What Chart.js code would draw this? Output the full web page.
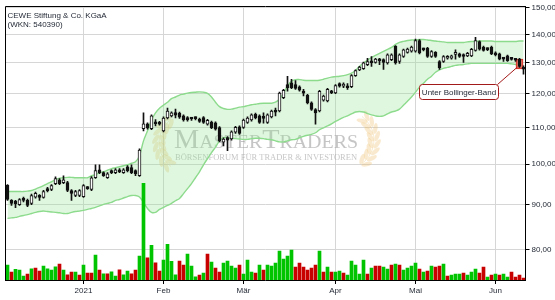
<!DOCTYPE html>
<html>
<head>
<meta charset="utf-8">
<script src="https://cdn.jsdelivr.net/npm/chart.js@4.4.1/dist/chart.umd.min.js"></script>
<style>
  html, body { margin: 0; padding: 0; background: #fff; }
</style>
</head>
<body>
<canvas id="kurs" width="555" height="300"></canvas>
<script>
// Tageskerzen CEWE, Dez 2020 - Jun 2021
const opens = [
  94.6, 91.0, 90.8, 90.0, 91.5, 91.0, 90.3, 91.75, 92.15, 91.7,
  93.8, 93.6, 95.05, 96.0, 95.3, 95.3, 93.35, 92.15, 92.15, 91.9,
  94.1, 93.6, 96.5, 98.5, 97.8, 96.5, 98.3, 97.8, 98.5, 97.8,
  99.3, 99.05, 98.3, 97.0, 109.6, 111.0, 109.6, 111.6, 111.4, 109.0,
  112.7, 113.3, 114.3, 114.1, 113.3, 112.8, 112.5, 112.6, 112.4, 112.8,
  110.9, 111.5, 111.3, 109.9, 105.8, 107.1, 106.7, 108.6, 110.1, 110.0,
  111.4, 112.1, 113.8, 113.3, 113.0, 111.4, 113.0, 114.6, 114.75, 118.8,
  122.9, 123.5, 122.9, 122.2, 120.4, 119.5, 117.2, 115.2, 114.75, 118.0,
  117.8, 120.8, 120.3, 123.2, 122.4, 122.0, 122.2, 125.8, 127.7, 128.1,
  129.4, 130.75, 130.2, 130.8, 131.1, 130.0, 131.1, 135.7, 130.5, 132.2,
  133.6, 134.0, 134.0, 137.8, 134.7, 135.1, 132.2, 133.6, 130.5, 130.5,
  131.6, 131.6, 132.9, 133.1, 132.3, 132.4, 132.4, 134.3, 137.4, 135.5,
  134.8, 135.5, 133.5, 133.1, 131.4, 132.4, 131.4, 131.1, 131.3, 128.4
];
const highs = [
  94.8, 91.2, 91.0, 91.4, 91.8, 91.3, 92.5, 93.0, 92.4, 93.4,
  94.1, 94.8, 96.75, 96.3, 97.0, 95.6, 93.6, 93.4, 93.6, 94.8,
  94.3, 96.8, 99.8, 99.8, 98.0, 97.8, 98.5, 98.8, 98.8, 98.8,
  99.6, 99.8, 98.5, 104.0, 114.2, 111.3, 113.6, 112.2, 111.7, 113.0,
  115.6, 114.5, 115.3, 114.4, 113.6, 113.1, 112.9, 113.0, 112.7, 113.1,
  112.3, 111.8, 111.6, 110.2, 107.0, 107.4, 109.0, 110.3, 110.4, 112.4,
  113.0, 113.9, 114.1, 113.6, 114.2, 113.9, 115.0, 115.6, 120.5, 121.4,
  125.6, 124.6, 124.2, 122.5, 121.4, 119.8, 117.5, 115.5, 121.1, 119.6,
  121.7, 121.1, 122.9, 123.5, 123.5, 123.2, 126.1, 127.7, 128.9, 130.3,
  131.6, 132.2, 131.6, 131.6, 131.4, 133.1, 133.1, 136.0, 133.1, 134.8,
  135.1, 135.8, 138.3, 138.1, 135.1, 135.4, 134.2, 133.9, 130.8, 132.5,
  132.5, 132.7, 134.5, 133.4, 133.1, 133.6, 135.0, 138.9, 137.7, 135.8,
  135.2, 135.8, 133.8, 133.4, 131.7, 132.7, 131.7, 131.4, 131.6, 129.0
];
const lows = [
  91.0, 89.8, 89.3, 89.8, 90.6, 89.5, 90.0, 91.5, 91.0, 91.5,
  93.0, 93.3, 94.8, 94.8, 95.0, 93.1, 91.0, 91.9, 91.9, 91.7,
  93.6, 93.3, 96.3, 97.5, 96.8, 96.3, 97.5, 97.5, 97.8, 97.6,
  98.0, 97.5, 97.0, 96.8, 109.0, 109.5, 109.3, 110.4, 110.6, 108.7,
  112.4, 113.0, 112.7, 112.6, 111.8, 111.8, 112.0, 112.1, 111.4, 111.1,
  110.6, 109.6, 109.2, 105.9, 104.8, 103.5, 106.4, 108.3, 108.0, 109.7,
  111.1, 111.8, 112.4, 111.1, 111.2, 111.1, 112.7, 113.3, 114.5, 118.5,
  120.8, 121.6, 121.4, 120.8, 119.3, 116.9, 114.9, 110.9, 114.5, 117.7,
  117.5, 120.0, 120.0, 122.1, 121.9, 121.4, 121.9, 125.5, 127.4, 127.8,
  129.1, 128.85, 129.9, 129.4, 127.8, 129.6, 130.8, 129.6, 129.8, 131.9,
  133.3, 133.7, 133.7, 133.1, 134.1, 131.9, 131.9, 131.9, 127.8, 130.2,
  131.3, 131.3, 131.3, 131.9, 130.2, 132.1, 132.1, 134.0, 134.4, 134.0,
  134.2, 132.8, 132.4, 131.0, 130.5, 130.5, 130.9, 130.5, 128.5, 126.3
];
const closes = [
  91.2, 90.3, 90.2, 91.2, 91.0, 89.8, 92.15, 92.7, 91.7, 93.1,
  93.3, 94.56, 96.27, 95.05, 96.0, 93.35, 92.65, 93.1, 93.35, 94.56,
  93.8, 96.5, 98.3, 97.8, 97.0, 97.5, 97.8, 98.5, 98.0, 98.5,
  98.3, 97.8, 97.5, 103.7, 111.0, 109.8, 113.3, 111.0, 110.9, 112.7,
  114.75, 114.2, 113.5, 112.9, 112.1, 112.1, 112.4, 112.5, 111.7, 111.4,
  112.0, 109.9, 109.5, 106.2, 106.7, 106.4, 108.7, 110.0, 108.3, 112.1,
  112.7, 113.6, 112.7, 111.4, 112.6, 113.6, 114.75, 114.4, 120.2, 121.1,
  121.9, 121.9, 121.7, 121.1, 120.2, 117.2, 115.2, 114.2, 120.8, 119.3,
  121.4, 120.3, 122.6, 122.4, 122.9, 121.9, 125.8, 127.45, 128.6, 130.0,
  130.5, 130.0, 131.3, 130.7, 130.2, 132.8, 132.8, 130.0, 132.8, 134.5,
  134.8, 135.5, 137.8, 133.4, 134.5, 132.2, 133.9, 132.2, 128.3, 132.2,
  132.2, 132.4, 133.0, 132.2, 132.2, 133.3, 134.7, 137.8, 134.7, 134.3,
  134.6, 133.1, 132.7, 131.3, 131.3, 130.8, 131.2, 130.9, 128.85, 127.9
];
const volumes = [
  7500, 4000, 5350, 5000, 2000, 3000, 5650, 6000, 4500, 7000,
  5650, 5000, 6650, 8000, 5000, 2650, 4000, 4000, 2500, 7500,
  3500, 3500, 12500, 5000, 3150, 3150, 4150, 2000, 5150, 2650,
  4500, 3150, 5000, 12000, 48650, 11150, 17500, 8650, 4500, 10000,
  18000, 9350, 2650, 9500, 7500, 13000, 7000, 1650, 2500, 3500,
  13000, 9000, 6000, 4000, 8500, 9500, 7000, 6000, 7500, 3000,
  10000, 4000, 3500, 7500, 5000, 7500, 7000, 8500, 14500, 10500,
  12000, 15000, 6500, 8500, 6500, 5000, 6000, 7500, 14500, 4000,
  6500, 4000, 4000, 4500, 3500, 2500, 9500, 7500, 3000, 10000,
  3000, 6000, 7000, 7000, 6500, 5500, 7500, 8000, 7500, 5000,
  6000, 7000, 8500, 5500, 4000, 4500, 7000, 6500, 7000, 8000,
  2000, 2500, 3000, 3000, 3500, 2500, 4000, 5500, 3500, 6500,
  1500, 2500, 3000, 2500, 3000, 1500, 4000, 1500, 2500, 1000
];
// g = Umsatz bei steigendem, r = bei fallendem Kurs
const volDir = (
  'grgggrgrrg' + 'gggrgrrgrg' + 'rrgrgrggrg' + 'grrggrgrrg' + 'gggrrgggrg' +
  'rgrrggggrg' + 'ggrgrggggg' + 'ggrrrrrrgr' + 'grggrggggg' + 'rgrrggrgrg' +
  'gggrgrgrrg' + 'rgggrgggrr' + 'grgrggrrrr'
).split('');
const bbUpper = [
  93.1, 93.1, 93.1, 93.1, 93.1, 93.2, 93.35, 93.7, 94.1, 94.55,
  95.05, 95.5, 96.0, 96.4, 96.5, 96.6, 96.6, 96.5, 96.5, 96.5,
  96.5, 97.0, 97.25, 97.8, 98.0, 98.4, 98.8, 99.05, 99.3, 99.55,
  99.8, 100.2, 100.6, 102.2, 106.2, 109.0, 112.1, 114.2, 115.6, 116.5,
  117.4, 118.5, 119.0, 119.6, 119.9, 120.2, 120.4, 120.5, 120.6, 120.5,
  120.1, 119.0, 117.4, 116.05, 115.5, 115.25, 115.3, 115.6, 115.9, 116.05,
  116.35, 116.65, 116.8, 117.0, 117.1, 117.1, 117.1, 117.4, 118.4, 120.2,
  122.4, 124.0, 124.5, 124.5, 124.3, 124.2, 124.2, 124.2, 124.3, 124.6,
  125.0, 125.3, 125.45, 125.6, 125.8, 126.1, 126.6, 127.5, 128.85, 130.0,
  131.0, 131.85, 132.55, 133.25, 133.95, 134.65, 135.35, 136.4, 137.1, 137.5,
  137.8, 138.0, 138.0, 138.15, 138.15, 138.0, 137.8, 137.6, 137.45, 137.3,
  137.1, 137.1, 137.1, 137.1, 137.1, 137.3, 137.45, 137.45, 137.6, 137.6,
  137.6, 137.6, 137.45, 137.45, 137.45, 137.45, 137.45, 137.45, 137.6, 137.6
];
const bbLower = [
  86.85, 86.95, 87.05, 87.3, 87.5, 87.7, 87.95, 88.2, 88.4, 88.5,
  88.4, 88.3, 88.2, 88.1, 87.95, 87.95, 88.2, 88.4, 88.5, 88.65,
  88.9, 89.1, 89.35, 89.7, 90.05, 90.3, 90.5, 91.0, 91.2, 91.55,
  91.9, 92.15, 92.15, 91.8, 90.5, 89.1, 88.2, 88.2, 88.9, 89.35,
  89.8, 90.3, 90.9, 91.45, 92.6, 93.8, 95.05, 96.5, 98.0, 99.8,
  101.4, 103.0, 104.5, 106.2, 107.05, 107.05, 106.9, 106.8, 106.7, 106.6,
  106.6, 106.8, 106.9, 106.9, 106.8, 106.6, 106.5, 106.2, 105.9, 105.9,
  106.2, 106.5, 106.6, 107.05, 107.45, 107.75, 108.0, 108.45, 109.3, 109.85,
  110.4, 111.0, 111.7, 112.3, 112.9, 113.3, 113.9, 114.45, 114.6, 114.45,
  114.0, 113.6, 113.3, 113.15, 113.3, 113.9, 114.45, 114.75, 115.3, 116.5,
  117.7, 119.0, 120.5, 122.1, 123.35, 124.6, 125.6, 126.9, 127.7, 128.2,
  128.5, 128.85, 129.2, 129.35, 129.5, 129.7, 129.85, 129.85, 129.85, 129.85,
  129.85, 129.85, 129.85, 129.85, 129.85, 129.85, 129.7, 129.5, 129.35, 129.2
];

const monthStarts = [19, 39, 59, 82, 102, 122];
const monthNames = ['2021', 'Feb', 'Mär', 'Apr', 'Mai', 'Jun'];
const yTicks = [80, 90, 100, 110, 120, 130, 140, 150];
const signalIndex = 128;
const signalBox = [128.0, 131.3];
const signalText = 'Unter Bollinger-Band';
const titleLines = ['CEWE Stiftung & Co. KGaA', '(WKN: 540390)'];

const days = opens.map((_, i) => i);
const sans = '"Liberation Sans", Arial, sans-serif';
const serif = '"Liberation Serif", "DejaVu Serif", serif';
const textColor = '#1e2430';

Chart.defaults.font.family = sans;
Chart.defaults.font.size = 8;

// Rahmen oben/links, Titel
const frame = {
  id: 'frame',
  afterDraw(chart) {
    const { ctx, chartArea: a } = chart;
    ctx.save();
    ctx.strokeStyle = '#000';
    ctx.lineWidth = 1;
    ctx.beginPath();
    ctx.moveTo(Math.floor(a.left) + 0.5, a.bottom);
    ctx.lineTo(Math.floor(a.left) + 0.5, Math.floor(a.top) + 0.5);
    ctx.lineTo(a.right, Math.floor(a.top) + 0.5);
    ctx.stroke();
    ctx.fillStyle = textColor;
    ctx.font = '8px ' + sans;
    ctx.textBaseline = 'alphabetic';
    ctx.fillText(titleLines[0], a.left + 2, a.top + 11);
    ctx.fillText(titleLines[1], a.left + 2, a.top + 20.5);
    ctx.restore();
  }
};

// Wasserzeichen
function laurel(ctx, cx, cy, r, a0, a1) {
  ctx.beginPath();
  ctx.arc(cx, cy, r, a0, a1);
  ctx.stroke();
  for (let a = a0 + 0.1; a <= a1; a += 0.24) {
    const x = cx + r * Math.cos(a), y = cy + r * Math.sin(a);
    for (const s of [-1, 1]) {
      ctx.save();
      ctx.translate(x + s * 3.5 * Math.cos(a), y + s * 3.5 * Math.sin(a));
      ctx.rotate(a + Math.PI / 2 + s * 0.5);
      ctx.beginPath();
      ctx.ellipse(0, 0, 5.5, 2.2, 0, 0, Math.PI * 2);
      ctx.fill();
      ctx.restore();
    }
  }
}

const watermark = {
  id: 'watermark',
  beforeDatasetsDraw(chart) {
    const ctx = chart.ctx;
    ctx.save();
    ctx.fillStyle = 'rgba(236,190,110,0.33)';
    ctx.strokeStyle = 'rgba(236,190,110,0.33)';
    ctx.lineWidth = 1;
    laurel(ctx, 188, 143, 29, Math.PI * 0.7, Math.PI * 1.3);
    laurel(ctx, 345, 140, 29, -Math.PI * 0.3, Math.PI * 0.3);

    const parts = [['M', 27], ['ASTER', 19], ['T', 27], ['RADERS', 19]];
    let total = 0;
    parts.forEach(([t, s]) => { ctx.font = s + 'px ' + serif; total += ctx.measureText(t).width; });
    const k = 184 / total;
    ctx.fillStyle = 'rgba(140,140,140,0.5)';
    ctx.save();
    ctx.translate(174, 148);
    ctx.scale(k, 1);
    let x = 0;
    parts.forEach(([t, s]) => {
      ctx.font = s + 'px ' + serif;
      ctx.fillText(t, x, 0);
      x += ctx.measureText(t).width;
    });
    ctx.restore();

    const sub = 'BÖRSENFORUM FÜR TRADER & INVESTOREN';
    ctx.font = '8px ' + serif;
    const w = ctx.measureText(sub).width;
    ctx.save();
    ctx.translate(175, 160);
    ctx.scale(182 / w, 1);
    ctx.fillStyle = 'rgba(140,140,140,0.5)';
    ctx.fillText(sub, 0, 0);
    ctx.restore();
    ctx.restore();
  }
};

// Hinweis-Box am Signal
const signalNote = {
  id: 'signalNote',
  afterDatasetsDraw(chart) {
    const { ctx, scales } = chart;
    const px = scales.x.getPixelForValue(signalIndex);
    const py = scales.y.getPixelForValue((signalBox[0] + signalBox[1]) / 2);
    const bw = 79, bh = 15;
    const bx = Math.round(px - 21.5 - bw) + 0.5;
    const by = Math.round(py + 20.5) + 0.5;
    ctx.save();
    ctx.strokeStyle = '#a31a1a';
    ctx.lineWidth = 1;
    ctx.beginPath();
    ctx.moveTo(bx + bw - 1, by);
    ctx.lineTo(px - 2, py + 3);
    ctx.stroke();
    ctx.beginPath();
    ctx.roundRect(bx, by, bw, bh, 3);
    ctx.fillStyle = '#fff';
    ctx.fill();
    ctx.stroke();
    ctx.fillStyle = textColor;
    ctx.font = '8px ' + sans;
    ctx.textAlign = 'center';
    ctx.textBaseline = 'middle';
    ctx.fillText(signalText, bx + bw / 2, by + bh / 2 + 0.5);
    ctx.restore();
  }
};

const bodyColors = opens.map((o, i) => closes[i] >= o ? '#ffffff' : '#111111');
const volColors = volDir.map(d => d === 'g' ? '#00c400' : '#c80000');

new Chart(document.getElementById('kurs'), {
  type: 'bar',
  data: {
    labels: days,
    datasets: [
      {
        label: 'Körper',
        data: opens.map((o, i) => [Math.min(o, closes[i]), Math.max(o, closes[i])]),
        backgroundColor: bodyColors,
        borderColor: '#111',
        borderWidth: 1,
        borderSkipped: false,
        barThickness: 3,
        minBarLength: 2,
        grouped: false,
        order: 1
      },
      {
        label: 'Docht',
        data: lows.map((l, i) => [l, highs[i]]),
        backgroundColor: '#111',
        borderWidth: 0,
        barThickness: 1,
        grouped: false,
        order: 2
      },
      {
        label: 'Signal',
        data: days.map(i => i === signalIndex ? signalBox : null),
        backgroundColor: 'rgba(240,112,96,0.85)',
        borderColor: '#d4281e',
        borderWidth: 1,
        borderSkipped: false,
        barThickness: 7,
        grouped: false,
        order: 3
      },
      {
        label: 'Umsatz',
        data: volumes,
        yAxisID: 'vol',
        backgroundColor: volColors,
        borderWidth: 0,
        barThickness: 3,
        grouped: false,
        order: 4
      },
      {
        type: 'line',
        label: 'Oberes Band',
        data: bbUpper,
        borderColor: '#8cda8c',
        borderWidth: 1.4,
        backgroundColor: 'rgba(150,225,150,0.3)',
        pointRadius: 0,
        tension: 0.35,
        fill: '+1',
        order: 5
      },
      {
        type: 'line',
        label: 'Unteres Band',
        data: bbLower,
        borderColor: '#8cda8c',
        borderWidth: 1.4,
        pointRadius: 0,
        tension: 0.35,
        fill: false,
        order: 6
      }
    ]
  },
  options: {
    responsive: false,
    animation: false,
    events: [],
    layout: { padding: { left: 5.5, top: 5, right: 0, bottom: 0 } },
    plugins: { legend: { display: false }, tooltip: { enabled: false } },
    scales: {
      x: {
        type: 'category',
        offset: true,
        afterBuildTicks: s => { s.ticks = monthStarts.map(v => ({ value: v })); },
        afterFit: s => { s.height = 20; },
        grid: { offset: false, color: '#d6d6d6', tickColor: '#000', tickLength: 4 },
        border: { color: '#000' },
        ticks: {
          autoSkip: false,
          maxRotation: 0,
          padding: 2,
          color: textColor,
          callback: (v, i) => monthNames[i]
        }
      },
      y: {
        type: 'logarithmic',
        position: 'right',
        min: 74,
        max: 150.4,
        afterBuildTicks: s => { s.ticks = yTicks.map(v => ({ value: v })); },
        afterFit: s => { s.width = 29.5; },
        grid: { color: '#d6d6d6', tickColor: '#000', tickLength: 4 },
        border: { color: '#000' },
        ticks: {
          padding: 2,
          color: textColor,
          callback: v => v.toFixed(2).replace('.', ',')
        }
      },
      vol: {
        type: 'linear',
        display: false,
        min: 0,
        max: 137500
      }
    }
  },
  plugins: [watermark, signalNote, frame]
});
</script>
</body>
</html>
